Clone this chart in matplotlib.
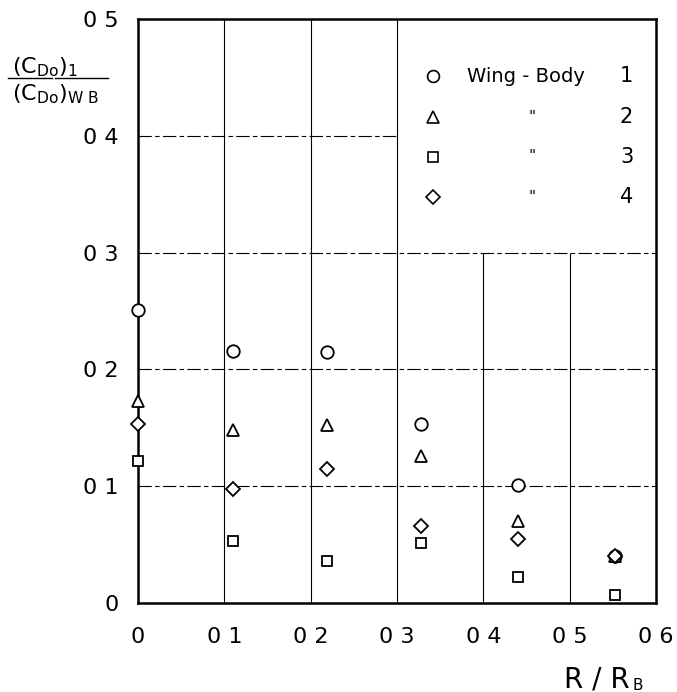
import matplotlib.pyplot as plt
from matplotlib.lines import Line2D

# R / R_B positions of the measured configurations
r_ratio = [0.0, 0.11, 0.219, 0.328, 0.44, 0.553]

# (C_Do)_I / (C_Do)_WB for each wing-body
wing_body_1 = [0.251, 0.216, 0.215, 0.153, 0.101, 0.040]
wing_body_2 = [0.173, 0.148, 0.152, 0.126, 0.070, 0.040]
wing_body_3 = [0.122, 0.053, 0.036, 0.051, 0.022, 0.007]
wing_body_4 = [0.153, 0.098, 0.115, 0.066, 0.055, 0.040]

x_ticks = [0.0, 0.1, 0.2, 0.3, 0.4, 0.5, 0.6]
x_tick_labels = ["0", "0 1", "0 2", "0 3", "0 4", "0 5", "0 6"]
y_ticks = [0.0, 0.1, 0.2, 0.3, 0.4, 0.5]
y_tick_labels = ["0", "0 1", "0 2", "0 3", "0 4", "0 5"]

legend_names = ["Wing - Body", '"', '"', '"']
legend_numbers = ["1", "2", "3", "4"]

plt.rcParams["font.family"] = ["DejaVu Sans"]
plt.rcParams["mathtext.default"] = "regular"

fig = plt.figure(figsize=(6.77, 6.92), dpi=100)
ax = fig.add_axes([138 / 677, 1 - 603 / 692, 518 / 677, 584 / 692])
ax.set_xlim(0, 0.6)
ax.set_ylim(0, 0.5)

# grid, cut out where the key sits in the upper right
grid_kw = dict(color="black", lw=0.8, zorder=1)
ax.vlines([0.1, 0.2, 0.3], 0, 0.5, **grid_kw)
ax.vlines([0.4, 0.5], 0, 0.3, **grid_kw)
for yv, xend in [(0.1, 0.6), (0.2, 0.6), (0.3, 0.6), (0.4, 0.3)]:
    ax.plot([0, xend], [yv, yv], color="black", lw=0.8, zorder=1,
            dashes=(12, 3, 4, 3))

series = [
    (wing_body_1, "o", 9),
    (wing_body_2, "^", 8.5),
    (wing_body_3, "s", 7.5),
    (wing_body_4, "D", 7.5),
]
for vals, mk, ms in series:
    ax.plot(r_ratio, vals, linestyle="none", marker=mk, markersize=ms,
            markerfacecolor="white", markeredgecolor="black",
            markeredgewidth=1.3, clip_on=False, zorder=5)

for sp in ax.spines.values():
    sp.set_linewidth(1.8)
ax.tick_params(length=0, labelsize=16)
ax.tick_params(axis="x", pad=17)
ax.tick_params(axis="y", pad=14)
ax.set_xticks(x_ticks)
ax.set_xticklabels(x_tick_labels)
ax.set_yticks(y_ticks)
ax.set_yticklabels(y_tick_labels)

# key
row_y = [0.902, 0.832, 0.764, 0.695]
for (vals, mk, ms), name, num, yy in zip(series, legend_names, legend_numbers, row_y):
    ax.plot([0.569], [yy], transform=ax.transAxes, linestyle="none", marker=mk,
            markersize=ms * 0.95, markerfacecolor="white",
            markeredgecolor="black", markeredgewidth=1.2, zorder=6)
    if name == '"':
        ax.text(0.761, yy, name, transform=ax.transAxes, fontsize=11,
                va="center", ha="center")
    else:
        ax.text(0.636, yy, name, transform=ax.transAxes, fontsize=14,
                va="center", ha="left")
    ax.text(0.956, yy, num, transform=ax.transAxes, fontsize=15,
            va="center", ha="right")

# x axis label R / R_B
t1 = ax.text(0.95, -0.144, "R / R", transform=ax.transAxes, fontsize=20,
             ha="right", va="baseline")
ax.annotate("B", xy=(1, 0), xycoords=t1, xytext=(2, 0),
            textcoords="offset points", fontsize=11, ha="left", va="bottom")

# y axis label as a stacked ratio
fig.text(12 / 677, 1 - 73 / 692, r"(C$_{Do}$)$_{1}$", fontsize=16,
         ha="left", va="baseline")
fig.text(12 / 677, 1 - 100 / 692, r"(C$_{Do}$)$_{W\ B}$", fontsize=16,
         ha="left", va="baseline")
for x0, x1 in [(8, 52), (55, 108)]:
    fig.add_artist(Line2D([x0 / 677, x1 / 677], [1 - 78 / 692, 1 - 78 / 692],
                          transform=fig.transFigure, color="black", lw=1))

fig.savefig("out.png", dpi=100)
